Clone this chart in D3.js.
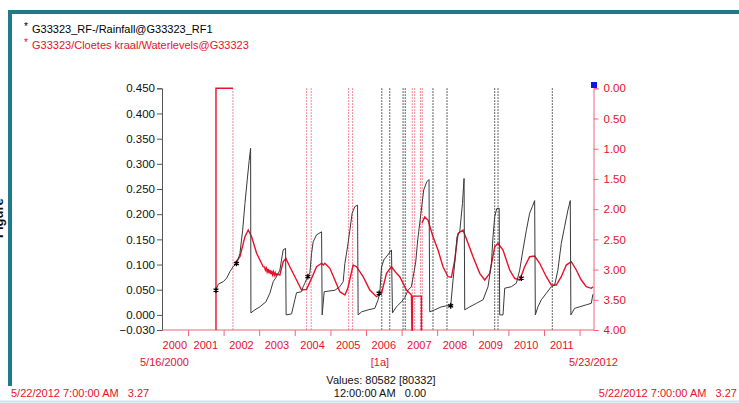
<!DOCTYPE html>
<html>
<head>
<meta charset="utf-8">
<script src="https://cdn.jsdelivr.net/npm/d3@7"></script>
<style>
  body { margin: 0; background: #fff; }
  svg { display: block; font-family: "Liberation Sans", Arial, sans-serif; }
</style>
</head>
<body>
<svg width="739" height="403"></svg>
<script>
// rainfall series (left axis): [decimal year, value]
const rainfall = [
  [2001.786, 0.049], [2001.850, 0.061], [2001.991, 0.066], [2002.086, 0.073], [2002.179, 0.086],
  [2002.271, 0.096], [2002.367, 0.102], [2002.459, 0.122], [2002.535, 0.168], [2002.600, 0.221],
  [2002.664, 0.268], [2002.720, 0.307], [2002.759, 0.331], [2002.768, 0.004], [2002.880, 0.010],
  [2003.020, 0.016], [2003.189, 0.026], [2003.300, 0.043], [2003.394, 0.066], [2003.489, 0.076],
  [2003.582, 0.089], [2003.674, 0.129], [2003.742, 0.132], [2003.758, 0.000], [2003.910, 0.002],
  [2004.003, 0.030], [2004.050, 0.044], [2004.191, 0.046], [2004.236, 0.056], [2004.283, 0.063],
  [2004.359, 0.076], [2004.424, 0.083], [2004.471, 0.122], [2004.516, 0.145], [2004.612, 0.159],
  [2004.752, 0.165], [2004.769, 0.000], [2004.825, 0.046], [2005.125, 0.049], [2005.265, 0.056],
  [2005.358, 0.066], [2005.406, 0.102], [2005.481, 0.135], [2005.546, 0.168], [2005.611, 0.202],
  [2005.686, 0.215], [2005.762, 0.218], [2005.779, 0.000], [2005.874, 0.006], [2006.060, 0.010],
  [2006.248, 0.013], [2006.340, 0.030], [2006.388, 0.043], [2006.436, 0.095], [2006.500, 0.109],
  [2006.612, 0.119], [2006.716, 0.129], [2006.744, 0.004], [2006.856, 0.016], [2006.997, 0.026],
  [2007.089, 0.034], [2007.182, 0.049], [2007.277, 0.056], [2007.398, 0.105], [2007.454, 0.149],
  [2007.538, 0.198], [2007.622, 0.248], [2007.706, 0.264], [2007.771, 0.269], [2007.791, 0.006],
  [2007.931, 0.010], [2008.119, 0.016], [2008.260, 0.018], [2008.380, 0.018], [2008.445, 0.069],
  [2008.492, 0.102], [2008.557, 0.155], [2008.633, 0.165], [2008.709, 0.221], [2008.754, 0.271],
  [2008.773, 0.010], [2008.914, 0.016], [2009.101, 0.023], [2009.287, 0.030], [2009.427, 0.056],
  [2009.522, 0.102], [2009.567, 0.155], [2009.615, 0.195], [2009.671, 0.211], [2009.741, 0.212],
  [2009.755, 0.000], [2009.848, 0.000], [2009.896, 0.053], [2010.084, 0.056], [2010.224, 0.063],
  [2010.317, 0.089], [2010.409, 0.129], [2010.505, 0.168], [2010.597, 0.202], [2010.673, 0.215],
  [2010.738, 0.227], [2010.757, 0.000], [2010.830, 0.016], [2010.925, 0.030], [2011.066, 0.043],
  [2011.206, 0.056], [2011.299, 0.059], [2011.391, 0.089], [2011.486, 0.142], [2011.579, 0.175],
  [2011.672, 0.208], [2011.739, 0.227], [2011.756, 0.000], [2011.860, 0.013], [2012.000, 0.016],
  [2012.188, 0.020], [2012.329, 0.023], [2012.374, 0.041]
];

// points marked on the rainfall line
const rainMarks = [
  [2001.786, 0.049], [2002.361, 0.102], [2004.367, 0.076],
  [2006.368, 0.043], [2008.380, 0.018], [2010.364, 0.073]
];

// water level series (right axis, depth): null = gap
const waterlevel = [
  [2001.786, 4.0], [2001.786, 0.0], [2002.263, 0.0], [2002.263, null],
  [2002.319, 2.896], [2002.459, 2.787], [2002.600, 2.456], [2002.692, 2.345], [2002.788, 2.456],
  [2002.928, 2.731], [2003.113, 2.953], [2003.150, 2.960], [2003.175, 3.010], [2003.200, 2.975],
  [2003.225, 3.040], [2003.250, 2.990], [2003.275, 3.060], [2003.300, 3.005], [2003.325, 3.075],
  [2003.350, 3.020], [2003.375, 3.085], [2003.400, 3.035], [2003.425, 3.095], [2003.450, 3.050],
  [2003.475, 3.100], [2003.500, 3.070], [2003.582, 3.090], [2003.674, 2.870],
  [2003.750, 2.814], [2003.862, 2.953], [2004.050, 3.173], [2004.191, 3.338], [2004.331, 3.327],
  [2004.471, 3.145], [2004.612, 2.953], [2004.752, 2.896], [2004.802, 2.924], [2004.844, 2.896],
  [2004.985, 2.979], [2005.125, 3.173], [2005.265, 3.366], [2005.406, 3.421], [2005.490, 3.305],
  [2005.638, 2.925], [2005.733, 2.953], [2005.919, 3.118], [2006.107, 3.338], [2006.295, 3.449],
  [2006.436, 3.393], [2006.576, 3.062], [2006.716, 2.953], [2006.856, 3.062], [2006.949, 3.118],
  [2007.137, 3.338], [2007.277, 3.421], [2007.291, 4.0], [2007.305, 4.0], [2007.306, 3.44],
  [2007.558, 3.44], [2007.559, 4.0], [2007.572, 4.0], [2007.573, null],
  [2007.574, 2.229], [2007.650, 2.130], [2007.743, 2.180], [2007.883, 2.456], [2008.024, 2.676],
  [2008.164, 2.953], [2008.305, 3.118], [2008.400, 3.128], [2008.493, 2.842], [2008.585, 2.400],
  [2008.725, 2.345], [2008.866, 2.565], [2009.006, 2.787], [2009.194, 3.062], [2009.334, 3.173],
  [2009.475, 3.062], [2009.615, 2.622], [2009.708, 2.565], [2009.848, 2.676], [2010.036, 3.007],
  [2010.176, 3.145], [2010.317, 3.173], [2010.457, 2.953], [2010.597, 2.787], [2010.738, 2.776],
  [2010.878, 2.896], [2011.066, 3.118], [2011.206, 3.256], [2011.346, 3.256], [2011.486, 3.118],
  [2011.627, 2.925], [2011.767, 2.870], [2011.908, 3.007], [2012.048, 3.173], [2012.188, 3.284],
  [2012.329, 3.310], [2012.374, 3.284]
];

// dotted gap markers
const redGaps = [2002.263, 2004.334, 2004.460, 2005.512, 2005.624, 2007.300, 2007.370, 2007.530, 2007.581];
const blackGaps = [2006.444, 2006.668, 2007.042, 2007.103, 2007.883, 2008.276, 2009.615, 2009.708, 2011.234];

const leftTicks = [0.45, 0.4, 0.35, 0.3, 0.25, 0.2, 0.15, 0.1, 0.05, 0, -0.03];
const rightTicks = [0, 0.5, 1, 1.5, 2, 2.5, 3, 3.5, 4];
const yearLabels = [2000, 2001, 2002, 2003, 2004, 2005, 2006, 2007, 2008, 2009, 2010, 2011];
const startDate = new Date(2000, 4, 16), endDate = new Date(2012, 4, 23);

const RED = "#e8102a", PINK = "#f06478", INK = "#3a3a3a";
const svg = d3.select("svg");

function toDate(yr) {
  const y = Math.floor(yr);
  const a = new Date(y, 0, 1), b = new Date(y + 1, 0, 1);
  return new Date(+a + (yr - y) * (b - a));
}

const x = d3.scaleTime().domain([startDate, endDate]).range([165.6, 593.5]);
const yL = d3.scaleLinear().domain([-0.03, 0.45]).range([330, 88.3]);
const yR = d3.scaleLinear().domain([0, 4]).range([88.3, 330]);

// frame
svg.append("rect").attr("x", 8).attr("y", 10).attr("width", 740).attr("height", 4).attr("fill", "#1f7a8a");
svg.append("rect").attr("x", 8).attr("y", 10).attr("width", 4).attr("height", 376).attr("fill", "#1f7a8a");
svg.append("line").attr("x1", 0).attr("x2", 739).attr("y1", 401.5).attr("y2", 401.5)
  .attr("stroke", "#cfe2ea").attr("stroke-width", 2);

// cut-off rotated label at far left
svg.append("text").attr("transform", "translate(3,238) rotate(-90)")
  .attr("font-size", 13).attr("font-weight", "bold").attr("fill", "#111").text("Figure");

// legend
const legend = svg.append("g").attr("font-size", 11);
legend.append("text").attr("x", 24).attr("y", 30).attr("font-size", 10).attr("fill", "#000").text("*");
legend.append("text").attr("x", 32).attr("y", 33).attr("fill", "#000").text("G33323_RF-/Rainfall@G33323_RF1");
legend.append("text").attr("x", 24).attr("y", 46).attr("font-size", 10).attr("fill", RED).text("*");
legend.append("text").attr("x", 32).attr("y", 49).attr("fill", RED).text("G33323/Cloetes kraal/Waterlevels@G33323");

// gap markers
svg.append("g").selectAll("line").data(redGaps).join("line")
  .attr("x1", d => x(toDate(d))).attr("x2", d => x(toDate(d)))
  .attr("y1", 88.3).attr("y2", 330)
  .attr("stroke", PINK).attr("stroke-width", 1).attr("stroke-dasharray", "1.5,1.5");
svg.append("g").selectAll("line").data(blackGaps).join("line")
  .attr("x1", d => x(toDate(d))).attr("x2", d => x(toDate(d)))
  .attr("y1", 88.3).attr("y2", 330)
  .attr("stroke", "#333").attr("stroke-width", 1).attr("stroke-dasharray", "1.5,1.5");

// left axis
const axL = svg.append("g").attr("transform", "translate(162,0)")
  .call(d3.axisLeft(yL).tickValues(leftTicks).tickFormat(d3.format(".3f")).tickSize(5).tickPadding(2));
axL.select(".domain").attr("stroke", "#555");
axL.selectAll(".tick line").attr("stroke", "#555");
axL.selectAll("text").attr("font-size", 11.5).attr("fill", "#111").attr("font-family", "Liberation Sans, Arial");

// right axis
const axR = svg.append("g").attr("transform", "translate(593.5,0)")
  .call(d3.axisRight(yR).tickValues(rightTicks).tickFormat(d3.format(".2f")).tickSize(5).tickPadding(5));
axR.select(".domain").attr("stroke", PINK);
axR.selectAll(".tick line").attr("stroke", PINK);
axR.selectAll("text").attr("font-size", 11.5).attr("fill", RED).attr("font-family", "Liberation Sans, Arial");
svg.append("rect").attr("x", 591).attr("y", 82).attr("width", 6).attr("height", 6).attr("fill", "#1414e6");

// bottom axis
svg.append("line").attr("x1", 162).attr("x2", 593.5).attr("y1", 330).attr("y2", 330).attr("stroke", PINK);
const yearTicks = d3.range(2001, 2013).map(y => new Date(y, 0, 1));
const axB = svg.append("g").attr("transform", "translate(0,330)")
  .call(d3.axisBottom(x).tickValues(yearTicks).tickFormat("").tickSize(6));
axB.select(".domain").remove();
axB.selectAll(".tick line").attr("stroke", PINK);
svg.append("g").selectAll("text").data(yearLabels).join("text")
  .attr("x", d => {
    const a = d === 2000 ? startDate : new Date(d, 0, 1);
    return (x(a) + x(new Date(d + 1, 0, 1))) / 2 + (d === 2000 ? -2 : 0);
  })
  .attr("y", 349).attr("text-anchor", "middle").attr("font-size", 11).attr("fill", RED)
  .text(d => d);

// series
const lineR = d3.line().defined(d => d[1] !== null)
  .x(d => x(toDate(d[0]))).y(d => yR(d[1]));
svg.append("path").datum(waterlevel).attr("d", lineR)
  .attr("fill", "none").attr("stroke", RED).attr("stroke-width", 1.4);

const lineL = d3.line().x(d => x(toDate(d[0]))).y(d => yL(d[1]));
svg.append("path").datum(rainfall).attr("d", lineL)
  .attr("fill", "none").attr("stroke", INK).attr("stroke-width", 1);

svg.append("g").selectAll("path").data(rainMarks).join("path")
  .attr("transform", d => `translate(${x(toDate(d[0]))},${yL(d[1])})`)
  .attr("d", d3.symbol(d3.symbolAsterisk, 22))
  .attr("stroke", "#000").attr("stroke-width", 1.3).attr("fill", "none");

// footer texts
const foot = svg.append("g").attr("font-size", 11);
foot.append("text").attr("x", 140).attr("y", 366).attr("fill", RED).text("5/16/2000");
foot.append("text").attr("x", 380).attr("y", 366).attr("text-anchor", "middle").attr("fill", RED).text("[1a]");
foot.append("text").attr("x", 569).attr("y", 366).attr("fill", RED).text("5/23/2012");
foot.append("text").attr("x", 381).attr("y", 384).attr("text-anchor", "middle").attr("fill", "#111").text("Values: 80582 [80332]");
foot.append("text").attr("x", 380).attr("y", 397).attr("text-anchor", "middle").attr("fill", "#111")
  .attr("xml:space", "preserve").text("12:00:00 AM   0.00");
foot.append("text").attr("x", 11).attr("y", 397).attr("fill", RED)
  .attr("xml:space", "preserve").text("5/22/2012 7:00:00 AM   3.27");
foot.append("text").attr("x", 737).attr("y", 397).attr("text-anchor", "end").attr("fill", RED)
  .attr("xml:space", "preserve").text("5/22/2012 7:00:00 AM   3.27");
</script>
</body>
</html>
